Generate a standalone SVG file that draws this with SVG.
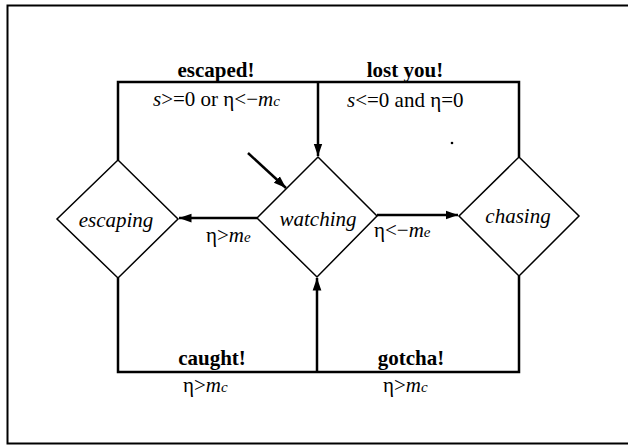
<svg xmlns="http://www.w3.org/2000/svg" width="628" height="445" viewBox="0 0 628 445">
<style>
.node{fill:#fff;stroke:#000;stroke-width:1.5}
.edge{fill:none;stroke:#000;stroke-width:2.5}
.t{font-family:"Liberation Serif","Times New Roman",serif;font-size:21px;fill:#000}
.b{font-weight:bold}
.i{font-style:italic}
.s{font-size:15px;font-style:italic}
</style>
<defs>
<marker id="ah" viewBox="0 0 10 10" refX="10" refY="5" markerWidth="5" markerHeight="5" orient="auto" markerUnits="strokeWidth">
<path d="M0,1.5 L10,5 L0,8.5 Z" fill="#000"/>
</marker>
</defs>
<path d="M628,5.5 H7.5 V443.5 H628" fill="none" stroke="#000" stroke-width="2"/>
<g id="connectors">
<path class="edge" d="M118,160 V82 H519 V157"/>
<path class="edge" d="M318,82 V156" marker-end="url(#ah)"/>
<path class="edge" d="M118,278 V372 H519 V276"/>
<path class="edge" d="M317,372 V278" marker-end="url(#ah)"/>
<path class="edge" d="M257,218 H179" marker-end="url(#ah)"/>
<path class="edge" d="M377,215 H458" marker-end="url(#ah)"/>
<path class="edge" d="M248,153 L286,188" marker-end="url(#ah)"/>
</g>
<g id="escaping">
<polygon class="node" points="118,160 178,219 118,278 57,219"/>
<text class="t i" x="116" y="227" text-anchor="middle">escaping</text>
</g>
<g id="watching">
<polygon class="node" points="318,157 377,216 317,277 257,218"/>
<text class="t i" x="318" y="226" text-anchor="middle">watching</text>
</g>
<g id="chasing">
<polygon class="node" points="519,157 579,216 519,276 459,216"/>
<text class="t i" x="518" y="223" text-anchor="middle">chasing</text>
</g>
<g id="labels">
<text class="t b" x="216" y="77" text-anchor="middle">escaped!</text>
<text class="t" x="153" y="106"><tspan class="i">s</tspan>&gt;=0 or η&lt;−<tspan class="i">m</tspan><tspan class="s">c</tspan></text>
<text class="t b" x="405" y="77" text-anchor="middle">lost you!</text>
<text class="t" x="347" y="107"><tspan class="i">s</tspan>&lt;=0 and η=0</text>
<text class="t" x="206" y="242">η&gt;<tspan class="i">m</tspan><tspan class="s">e</tspan></text>
<text class="t" x="374" y="237">η&lt;−<tspan class="i">m</tspan><tspan class="s">e</tspan></text>
<text class="t b" x="212" y="365" text-anchor="middle">caught!</text>
<text class="t" x="183" y="392">η&gt;<tspan class="i">m</tspan><tspan class="s">c</tspan></text>
<text class="t b" x="411" y="365" text-anchor="middle">gotcha!</text>
<text class="t" x="383" y="392">η&gt;<tspan class="i">m</tspan><tspan class="s">c</tspan></text>
</g>
<circle cx="452" cy="143" r="1.3" fill="#000"/>
</svg>
